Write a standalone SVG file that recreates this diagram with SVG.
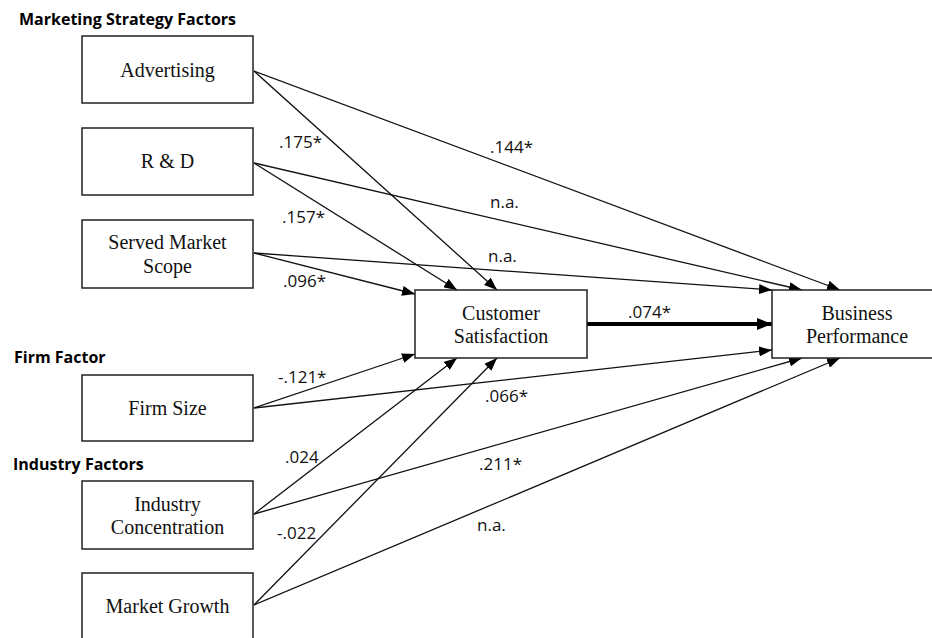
<svg xmlns="http://www.w3.org/2000/svg" width="932" height="638" viewBox="0 0 932 638">
<defs>
<marker id="ah" markerUnits="userSpaceOnUse" markerWidth="14" markerHeight="10" refX="13" refY="5" orient="auto">
<path d="M0,0 L13,5 L0,10 Z" fill="#000"/>
</marker>
<marker id="ahb" markerUnits="userSpaceOnUse" markerWidth="16" markerHeight="12" refX="15" refY="6" orient="auto">
<path d="M0,0 L15,6 L0,12 Z" fill="#000"/>
</marker>
</defs>
<style>
.box{fill:#fff;stroke:#222;stroke-width:1.5}
.nt{font-family:"Liberation Serif","Times New Roman",serif;font-size:20px;fill:#111;text-anchor:middle}
.hd{font-family:"Open Sans","Liberation Sans",sans-serif;font-weight:bold;font-size:16px;fill:#000}
.lb{font-family:"Open Sans","Liberation Sans",sans-serif;font-size:17px;fill:#111}
.c{fill:none;stroke:#111;stroke-width:1.3;marker-end:url(#ah)}
.thick{fill:none;stroke:#000;stroke-width:4;marker-end:url(#ahb)}
</style>
<rect width="932" height="638" fill="#fff"/>
<g id="headings">
<text class="hd" x="19" y="25">Marketing Strategy Factors</text>
<text class="hd" x="14" y="363">Firm Factor</text>
<text class="hd" x="13" y="470">Industry Factors</text>
</g>
<g id="connectors">
<line class="c" x1="254" y1="71" x2="497" y2="290"/>
<line class="c" x1="254" y1="163" x2="457" y2="290"/>
<line class="c" x1="254" y1="253" x2="415" y2="294"/>
<line class="c" x1="254" y1="408" x2="415" y2="354"/>
<line class="c" x1="254" y1="514" x2="457" y2="358"/>
<line class="c" x1="254" y1="605" x2="497" y2="358"/>
<line class="c" x1="254" y1="71" x2="840" y2="290"/>
<line class="c" x1="254" y1="163" x2="802" y2="290"/>
<line class="c" x1="254" y1="253" x2="772" y2="290"/>
<line class="c" x1="254" y1="408" x2="772" y2="350"/>
<line class="c" x1="254" y1="514" x2="802" y2="358"/>
<line class="c" x1="254" y1="605" x2="840" y2="358"/>
<line class="thick" x1="587" y1="324" x2="772" y2="324"/>
</g>
<g id="edge-labels">
<text class="lb" x="279" y="148">.175*</text>
<text class="lb" x="490" y="153">.144*</text>
<text class="lb" x="490" y="208">n.a.</text>
<text class="lb" x="282" y="223">.157*</text>
<text class="lb" x="488" y="262">n.a.</text>
<text class="lb" x="283" y="287">.096*</text>
<text class="lb" x="628" y="318">.074*</text>
<text class="lb" x="278" y="383">-.121*</text>
<text class="lb" x="485" y="402">.066*</text>
<text class="lb" x="285" y="463">.024</text>
<text class="lb" x="479" y="470">.211*</text>
<text class="lb" x="277" y="539">-.022</text>
<text class="lb" x="477" y="531">n.a.</text>
</g>
<g id="advertising">
<rect class="box" x="82" y="36" width="171" height="67"/>
<text class="nt" x="167.5" y="77">Advertising</text>
</g>
<g id="rd">
<rect class="box" x="82" y="128" width="171" height="67"/>
<text class="nt" x="167.5" y="168">R &amp; D</text>
</g>
<g id="served-market-scope">
<rect class="box" x="82" y="220" width="171" height="68"/>
<text class="nt" x="167.5" y="249">Served Market</text>
<text class="nt" x="167.5" y="273">Scope</text>
</g>
<g id="firm-size">
<rect class="box" x="82" y="375" width="171" height="66"/>
<text class="nt" x="167.5" y="415">Firm Size</text>
</g>
<g id="industry-concentration">
<rect class="box" x="82" y="481" width="171" height="68"/>
<text class="nt" x="167.5" y="511">Industry</text>
<text class="nt" x="167.5" y="534">Concentration</text>
</g>
<g id="market-growth">
<rect class="box" x="82" y="573" width="171" height="80"/>
<text class="nt" x="167.5" y="613">Market Growth</text>
</g>
<g id="customer-satisfaction">
<rect class="box" x="415" y="290" width="172" height="68"/>
<text class="nt" x="501" y="320">Customer</text>
<text class="nt" x="501" y="343">Satisfaction</text>
</g>
<g id="business-performance">
<rect class="box" x="772" y="290" width="173" height="68"/>
<text class="nt" x="857" y="320">Business</text>
<text class="nt" x="857" y="343">Performance</text>
</g>
</svg>
